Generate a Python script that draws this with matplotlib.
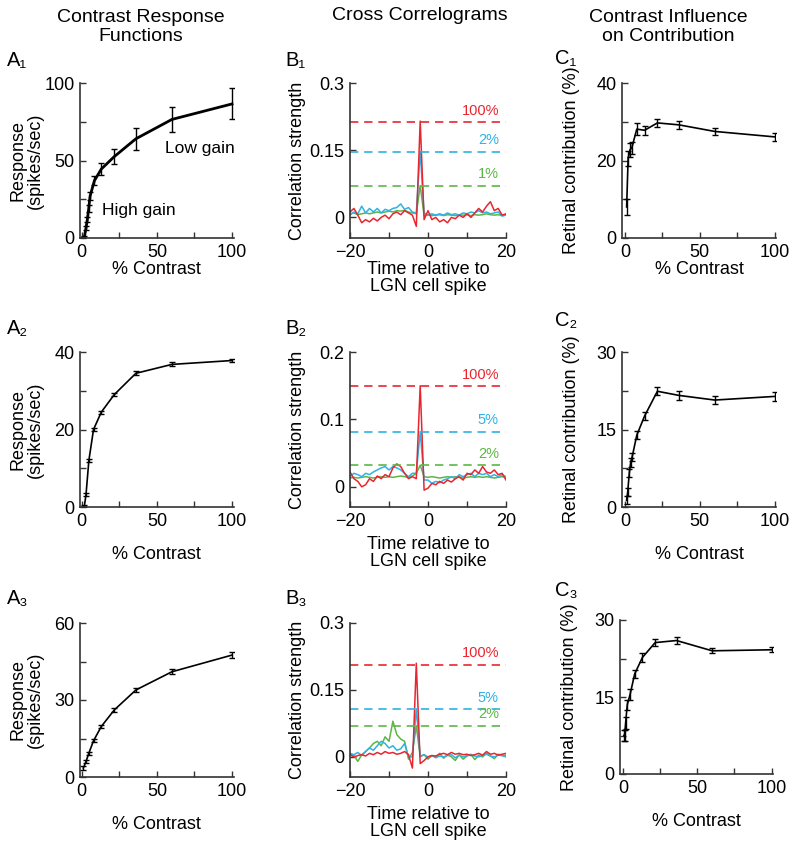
import numpy as np
import matplotlib
matplotlib.use("Agg")
import matplotlib.pyplot as plt

plt.rcParams['font.family'] = ['Liberation Sans', 'DejaVu Sans']

# ---------------- data ----------------
# contrast response functions (A)
a1_x = [1.0, 1.7, 2.8, 3.7, 4.6, 5.5, 8.4, 13, 21.6, 36, 60, 100]
a1_y = [0.0, 0.5, 6.5, 12, 19, 27, 37, 44.5, 52.5, 64, 76.5, 86.5]
a1_e = [0.8, 1.0, 1.5, 1.5, 2.0, 2.5, 3.0, 4.0, 5.0, 7.0, 8.0, 10.0]

a2_x = [1.7, 2.8, 4.7, 7.8, 13, 21.6, 36, 60, 100]
a2_y = [0.2, 3.2, 12, 20, 24.5, 29, 34.5, 36.8, 37.8]
a2_e = [0.3, 0.4, 0.5, 0.4, 0.4, 0.4, 0.5, 0.5, 0.5]

a3_x = [1.0, 2.8, 4.7, 7.8, 13, 21.6, 36, 60, 100]
a3_y = [3.5, 6.0, 9.3, 14.1, 19.7, 26.1, 33.9, 41, 47.5]
a3_e = [0.8, 0.6, 0.6, 0.6, 0.6, 0.6, 0.8, 1.0, 1.2]

# retinal contribution (C)
c1_x = [1.0, 2.0, 3.3, 4.4, 7.8, 13, 21.6, 36, 60, 100]
c1_y = [8.0, 20.5, 22.8, 23.2, 28.1, 27.8, 29.7, 29.2, 27.5, 26.1]
c1_e = [2.0, 2.0, 1.8, 1.5, 1.5, 1.2, 1.0, 1.0, 1.0, 1.0]

c2_x = [1.0, 1.7, 2.8, 3.7, 4.7, 7.8, 13, 21.6, 36, 60, 100]
c2_y = [1.3, 2.9, 6.6, 8.6, 9.7, 13.9, 17.6, 22.4, 21.6, 20.7, 21.4]
c2_e = [0.8, 0.8, 0.8, 0.8, 0.8, 0.8, 0.8, 0.8, 0.8, 0.8, 0.8]

c3_x = [0.6, 1.0, 1.7, 2.8, 4.7, 7.8, 13, 21.6, 36, 60, 100]
c3_y = [7.5, 7.5, 10, 13.5, 15.5, 19.5, 22.7, 25.6, 26, 24, 24.2]
c3_e = [1.0, 1.0, 1.2, 1.0, 1.0, 0.8, 0.8, 0.7, 0.6, 0.5, 0.5]

# cross correlograms (B), time -20..20 ms in 1 ms bins
t_ms = list(range(-20, 21))

b1_red = [0.012, 0.02, 0.005, -0.012, -0.005, -0.01, -0.002, -0.008, 0.0, 0.005,
          -0.003, 0.008, 0.012, 0.006, 0.015, 0.01, 0.005, -0.02, 0.215, -0.005,
          0.015, -0.005, 0.0, -0.01, -0.005, -0.012, 0.0, -0.003, 0.005, 0.0,
          0.008, 0.0, 0.01, 0.02, 0.012, 0.025, 0.035, 0.015, 0.02, 0.005, 0.008]
b1_blue = [0.005, 0.012, 0.008, 0.025, 0.01, 0.02, 0.012, 0.02, 0.01, 0.018,
           0.015, 0.02, 0.022, 0.03, 0.018, 0.022, 0.012, 0.01, 0.147, 0.01,
           0.005, 0.008, 0.005, 0.008, 0.005, 0.01, 0.006, 0.008, 0.005, 0.01,
           0.008, 0.012, 0.01, 0.015, 0.01, 0.012, 0.008, 0.01, 0.012, 0.003, 0.005]
b1_green = [0.008, 0.01, 0.006, 0.008, 0.01, 0.008, 0.01, 0.012, 0.01, 0.012,
            0.014, 0.012, 0.015, 0.014, 0.016, 0.012, 0.01, 0.008, 0.071, 0.004,
            0.006, 0.004, 0.005, 0.006, 0.004, 0.006, 0.005, 0.004, 0.006, 0.005,
            0.006, 0.004, 0.006, 0.005, 0.006, 0.008, 0.006, 0.005, 0.006, 0.004, 0.006]

b2_red = [0.022, 0.012, 0.008, 0.0, 0.003, 0.012, 0.008, 0.016, 0.012, 0.018,
          0.015, 0.028, 0.034, 0.03, 0.02, 0.012, 0.015, 0.012, 0.15, -0.005,
          -0.002, 0.005, 0.003, 0.008, 0.005, 0.01, 0.007, 0.012, 0.015, 0.01,
          0.02, 0.018, 0.025, 0.02, 0.03, 0.022, 0.02, 0.025, 0.018, 0.02, 0.01]
b2_blue = [0.015, 0.02, 0.018, 0.015, 0.02, 0.018, 0.022, 0.025, 0.028, 0.03,
           0.025, 0.03, 0.028, 0.025, 0.02, 0.015, 0.02, 0.02, 0.082, 0.01,
           0.01, 0.005, 0.008, 0.006, 0.01, 0.012, 0.015, 0.012, 0.018, 0.015,
           0.018, 0.02, 0.015, 0.02, 0.018, 0.02, 0.015, 0.018, 0.015, 0.018, 0.015]
b2_green = [0.013, 0.014, 0.013, 0.014, 0.015, 0.014, 0.013, 0.014, 0.015, 0.014,
            0.015, 0.014, 0.015, 0.016, 0.015, 0.014, 0.016, 0.02, 0.032, 0.015,
            0.014, 0.015, 0.014, 0.013, 0.014, 0.015, 0.014, 0.015, 0.014, 0.013,
            0.014, 0.015, 0.014, 0.015, 0.014, 0.015, 0.014, 0.013, 0.014, 0.015, 0.014]

b3_red = [0.005, 0.0, 0.003, 0.005, 0.002, 0.008, 0.005, 0.01, 0.006, 0.012,
          0.008, 0.01, 0.006, 0.008, 0.012, 0.005, -0.025, 0.21, -0.015, -0.008,
          0.0, 0.003, 0.002, 0.006, 0.008, 0.005, 0.01, 0.006, 0.008, 0.005,
          0.006, 0.003, 0.005, 0.008, 0.004, 0.012, 0.006, 0.008, 0.004, 0.006, 0.008]
b3_blue = [0.008, 0.005, 0.01, 0.003, 0.012, 0.02, 0.015, 0.025, 0.035, 0.03,
           0.02, 0.025, 0.015, 0.018, 0.03, 0.0, 0.0, 0.108, 0.002, 0.005,
           0.0, 0.003, -0.002, 0.002, 0.0, 0.003, 0.005, -0.002, 0.004, 0.0,
           0.003, 0.005, 0.002, 0.0, 0.004, 0.006, 0.002, 0.0, 0.004, 0.003, 0.0]
b3_green = [0.008, 0.003, -0.01, 0.005, 0.012, 0.02, 0.03, 0.035, 0.025, 0.045,
            0.035, 0.08, 0.05, 0.04, 0.035, -0.005, 0.01, 0.07, 0.0, 0.005,
            -0.005, 0.003, 0.0, 0.008, -0.003, 0.005, 0.0, -0.008, 0.005, -0.005,
            0.002, 0.006, -0.006, 0.004, 0.0, 0.008, 0.002, -0.004, 0.006, 0.003, 0.004]

b1_levels = [0.213, 0.147, 0.071]
b1_names = ["100%", "2%", "1%"]
b2_levels = [0.150, 0.082, 0.032]
b2_names = ["100%", "5%", "2%"]
b3_levels = [0.207, 0.108, 0.070]
b3_names = ["100%", "5%", "2%"]

RED = "#e8262f"
BLUE = "#2fb2e4"
GREEN = "#5cb646"
FS = 13

fig = plt.figure(figsize=(8, 8.49), dpi=100)


def px_axes(l, t, r, b):
    return fig.add_axes([l / 800, 1 - b / 849, (r - l) / 800, (b - t) / 849])


def style(ax):
    for s in ["top", "right"]:
        ax.spines[s].set_visible(False)
    for s in ["left", "bottom"]:
        ax.spines[s].set_color("#333333")
        ax.spines[s].set_linewidth(1.2)
    ax.tick_params(which="both", direction="in", color="#333333", width=1.0,
                   labelsize=FS, pad=4)
    ax.tick_params(which="major", length=4)
    ax.tick_params(which="minor", length=4)


def curve_panel(ax, x, y, e, yticks, ymax, lw=1.2, xleft=-1.2):
    ax.errorbar(x, y, yerr=e, color="black", lw=lw, elinewidth=1.0,
                capsize=2.2, capthick=1.0)
    ax.set_xlim(xleft, 101)
    ax.set_ylim(0, ymax)
    ax.set_xticks([0, 50, 100])
    ax.set_xticks([25, 75], minor=True)
    ax.set_yticks(yticks)
    ax.set_yticks([(yticks[0] + yticks[1]) / 2, (yticks[1] + yticks[2]) / 2], minor=True)
    style(ax)


def ccg_panel(ax, red, blue, green, levels, names, yticks, ybottom):
    ax.plot(t_ms, green, color=GREEN, lw=1.1)
    ax.plot(t_ms, blue, color=BLUE, lw=1.1)
    ax.plot(t_ms, red, color=RED, lw=1.1)
    for lev, name, col, xx in zip(levels, names, [RED, BLUE, GREEN], [13.5, 15.5, 15.5]):
        ax.axhline(lev, color=col, lw=1.2, ls=(0, (5, 3.5)))
        ax.annotate(name, (xx, lev), xytext=(0, 3), textcoords="offset points",
                    ha="center", va="bottom", color=col, fontsize=10.5)
    ax.set_xlim(-20, 20)
    ax.set_ylim(ybottom, yticks[-1])
    ax.set_xticks([-20, 0, 20])
    ax.set_xticks([-10, 10], minor=True)
    ax.set_yticks(yticks)
    ax.set_yticklabels([("%g" % v) for v in yticks])
    style(ax)


rows = [(83, 238), (352, 507), (623, 777)]
xlab_y = [-0.148, -0.252, -0.253]
blab_y = [-0.148, -0.187, -0.188]

# column A
a_data = [(a1_x, a1_y, a1_e, [0, 50, 100], 100, 2.0),
          (a2_x, a2_y, a2_e, [0, 20, 40], 40, 1.2),
          (a3_x, a3_y, a3_e, [0, 30, 60], 60, 1.2)]
for i, (x, y, e, yt, ym, lw) in enumerate(a_data):
    t, b = rows[i]
    ax = px_axes(80, t, 233.5, b)
    curve_panel(ax, x, y, e, yt, ym, lw=lw)
    ax.set_xlabel("% Contrast", fontsize=FS)
    ax.xaxis.set_label_coords(0.5, xlab_y[i])
    ax.set_ylabel("Response\n(spikes/sec)", fontsize=FS, linespacing=1.0)
    ax.yaxis.set_label_coords(-0.235, 0.5)
    if i == 0:
        ax.text(78.5, 58, "Low gain", fontsize=12.5, ha="center", va="center")
        ax.text(37.8, 17.5, "High gain", fontsize=12.5, ha="center", va="center")

# column B
b_data = [(b1_red, b1_blue, b1_green, b1_levels, b1_names, [0, 0.15, 0.3], -0.046),
          (b2_red, b2_blue, b2_green, b2_levels, b2_names, [0, 0.1, 0.2], -0.03),
          (b3_red, b3_blue, b3_green, b3_levels, b3_names, [0, 0.15, 0.3], -0.045)]
for i, (r, bl, g, lev, nm, yt, yb) in enumerate(b_data):
    t, b = rows[i]
    ax = px_axes(350, t, 506, b)
    ccg_panel(ax, r, bl, g, lev, nm, yt, yb)
    ax.set_xlabel("Time relative to\nLGN cell spike", fontsize=FS, linespacing=1.0)
    ax.xaxis.set_label_coords(0.5, blab_y[i])
    ax.set_ylabel("Correlation strength", fontsize=FS)
    ax.yaxis.set_label_coords(-0.28, 0.5)

# column C
c_data = [(c1_x, c1_y, c1_e, [0, 20, 40], 40, (622, 83, 776, 238)),
          (c2_x, c2_y, c2_e, [0, 15, 30], 30, (622, 352, 776, 507)),
          (c3_x, c3_y, c3_e, [0, 15, 30], 30, (620, 620, 773, 774))]
for i, (x, y, e, yt, ym, box) in enumerate(c_data):
    ax = px_axes(*box)
    curve_panel(ax, x, y, e, yt, ym, xleft=-2.1)
    ax.set_yticklabels([("%g" % v) for v in yt])
    ax.set_xlabel("% Contrast", fontsize=FS)
    ax.xaxis.set_label_coords(0.5, xlab_y[i])
    ax.set_ylabel("Retinal contribution (%)", fontsize=FS)
    ax.yaxis.set_label_coords(-0.275, 0.5)

# column headers
fig.text(141 / 800, 1 - 27 / 849, "Contrast Response\nFunctions", ha="center",
         va="center", fontsize=14, linespacing=1.1)
fig.text(420 / 800, 1 - 15 / 849, "Cross Correlograms", ha="center",
         va="center", fontsize=14)
fig.text(668 / 800, 1 - 27 / 849, "Contrast Influence\non Contribution", ha="center",
         va="center", fontsize=14, linespacing=1.1)

# panel letters
letters = [("A\u2081", 7, 61), ("B\u2081", 285, 61), ("C\u2081", 555, 58),
           ("A\u2082", 7, 328), ("B\u2082", 285, 328), ("C\u2082", 555, 320),
           ("A\u2083", 7, 599), ("B\u2083", 285, 599), ("C\u2083", 555, 590)]
for s, x, y in letters:
    fig.text(x / 800, 1 - y / 849, s, ha="left", va="center", fontsize=14.5)

fig.savefig("out.png", dpi=100)
